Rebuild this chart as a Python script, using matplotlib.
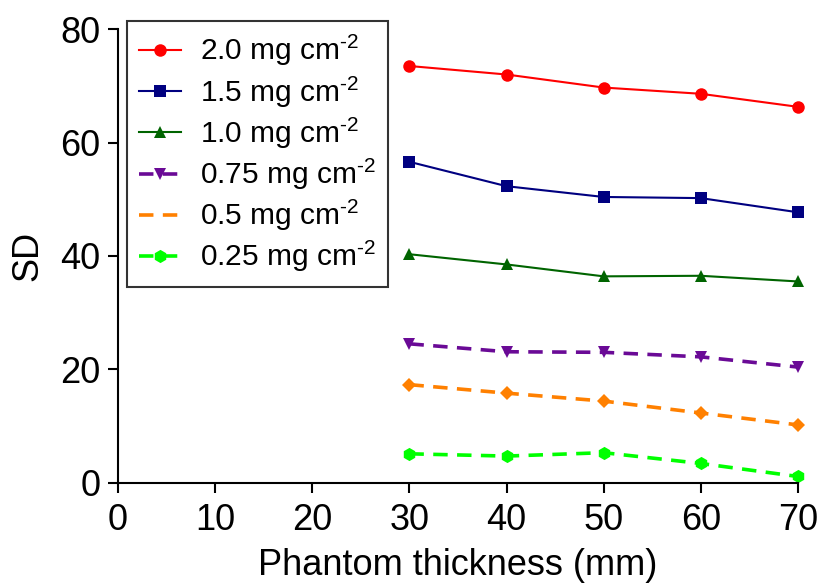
import matplotlib
matplotlib.use("Agg")
import matplotlib.pyplot as plt
from matplotlib.lines import Line2D

plt.rcParams["font.family"] = ["Liberation Sans", "DejaVu Sans"]
plt.rcParams["mathtext.default"] = "regular"

# data
thickness = [30, 40, 50, 60, 70]
sd_2_0 = [73.5, 72.0, 69.7, 68.6, 66.3]
sd_1_5 = [56.6, 52.3, 50.4, 50.2, 47.7]
sd_1_0 = [40.3, 38.5, 36.4, 36.5, 35.5]
sd_0_75 = [24.5, 23.1, 23.0, 22.2, 20.4]
sd_0_5 = [17.3, 15.8, 14.4, 12.3, 10.2]
sd_0_25 = [5.1, 4.7, 5.3, 3.4, 1.1]

labels = ["2.0", "1.5", "1.0", "0.75", "0.5", "0.25"]
series = [sd_2_0, sd_1_5, sd_1_0, sd_0_75, sd_0_5, sd_0_25]
colors = ["#ff0000", "#000080", "#006400", "#6a0a96", "#ff8000", "#00ff00"]
markers = ["o", "s", "^", "v", "D", "h"]
sizes = [9, 9, 9, 9, 7.5, 9.5]
solid = [True, True, True, False, False, False]

fig = plt.figure(figsize=(8.2, 5.83), dpi=100)
ax = fig.add_axes([0.144, 0.172, 0.829, 0.778])

handles = []
for lab, ys, c, m, ms, s in zip(labels, series, colors, markers, sizes, solid):
    kw = dict(color=c, marker=m, markersize=ms, markeredgewidth=0)
    if s:
        kw.update(linewidth=1.5, linestyle="-")
    else:
        kw.update(linewidth=2.6, linestyle="--", dashes=(4, 2.6))
    ln, = ax.plot(thickness, ys, label=lab, **kw)
    handles.append(ln)

# legend: orange entry has no marker in the original
leg_handles = []
for h, lab in zip(handles, labels):
    if lab == "0.5":
        leg_handles.append(Line2D([], [], color=h.get_color(), linewidth=2.6,
                                  linestyle="--", dashes=(4, 2.6)))
    else:
        leg_handles.append(h)
leg = ax.legend(leg_handles, [l + " mg cm$^{\u2010" + "2}$" for l in labels],
                loc="upper left", bbox_to_anchor=(0.002, 1.035), fontsize=21.5,
                frameon=True, fancybox=False, edgecolor="black",
                handlelength=1.4, handletextpad=0.62, labelspacing=0.2,
                borderpad=0.42, borderaxespad=0.25)
leg.get_frame().set_linewidth(1.5)

ax.set_xlim(0, 70)
ax.set_ylim(0, 80)
ax.set_xticks(range(0, 71, 10))
ax.set_yticks(range(0, 81, 20))
ax.spines["top"].set_visible(False)
ax.spines["right"].set_visible(False)
for sp in ("left", "bottom"):
    ax.spines[sp].set_linewidth(1.5)
ax.tick_params(labelsize=26, width=1.5, length=7.5, direction="out")
ax.tick_params(axis="x", pad=7)
ax.tick_params(axis="y", pad=5)
ax.set_xlabel("Phantom thickness (mm)", fontsize=26, labelpad=7)
ax.set_ylabel("SD", fontsize=26, labelpad=11)
for sp in ax.spines.values():
    sp.set_clip_on(False)
for ln in handles:
    ln.set_clip_on(False)

fig.savefig("out.png", dpi=100)
